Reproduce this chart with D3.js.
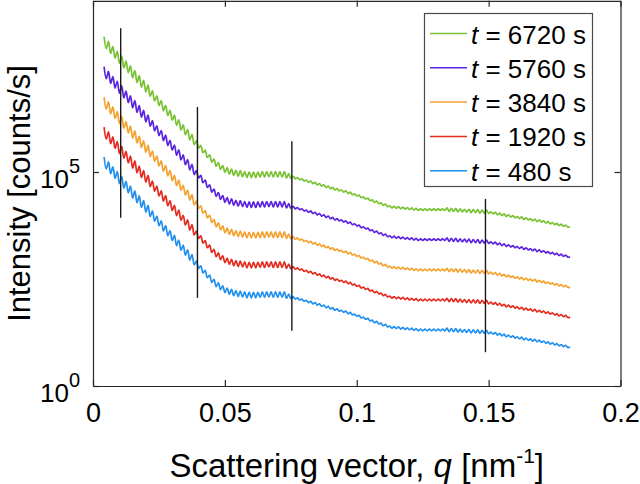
<!DOCTYPE html>
<html><head><meta charset="utf-8">
<script src="https://cdn.jsdelivr.net/npm/d3@7"></script>
<style>
body{margin:0;background:#fff;}
svg{display:block;font-family:"Liberation Sans",Arial,Helvetica,sans-serif;}
</style>
</head><body>
<svg id="chart" width="640" height="484"></svg>
<script>
// ---------------- DATA ----------------
// Legend labels (time, s) and colours, top to bottom
const seriesTimes = ["6720", "5760", "3840", "1920", "480"];
const seriesColors = ["#78C232", "#5A23E0", "#F4A22E", "#E42B1F", "#2090EE"];

// Scattering vector grid: q = qStart + i * qStep  (nm^-1)
const qStart = 0.0042;
const qStep = 1 / 1200;

// log10 of intensity (counts/s), one value per grid point
const logI_480 = [
5.35,5.07,5.24,4.96,5.12,4.85,5.01,4.73,4.90,4.62,
4.78,4.51,4.67,4.39,4.56,4.28,4.44,4.17,4.33,4.06,
4.22,3.96,4.09,3.85,3.97,3.74,3.86,3.62,3.75,3.51,
3.63,3.40,3.52,3.28,3.41,3.17,3.29,3.06,3.18,2.94,
3.07,2.83,2.92,2.75,2.81,2.64,2.70,2.53,2.59,2.42,
2.49,2.32,2.41,2.25,2.34,2.18,2.29,2.14,2.26,2.11,
2.23,2.09,2.22,2.08,2.20,2.06,2.19,2.06,2.19,2.06,
2.19,2.07,2.20,2.07,2.20,2.08,2.20,2.07,2.20,2.07,
2.20,2.07,2.20,2.05,2.15,2.04,2.09,2.03,2.06,2.01,
2.03,1.98,2.00,1.95,1.98,1.92,1.95,1.89,1.92,1.86,
1.89,1.83,1.86,1.80,1.83,1.77,1.80,1.75,1.77,1.72,
1.75,1.69,1.72,1.66,1.68,1.63,1.65,1.59,1.61,1.56,
1.58,1.52,1.54,1.48,1.51,1.45,1.47,1.41,1.44,1.38,
1.40,1.35,1.39,1.34,1.38,1.33,1.37,1.32,1.36,1.31,
1.35,1.30,1.34,1.29,1.33,1.29,1.33,1.29,1.33,1.29,
1.33,1.29,1.33,1.29,1.33,1.29,1.35,1.27,1.34,1.27,
1.34,1.26,1.33,1.26,1.32,1.25,1.32,1.24,1.31,1.24,
1.31,1.23,1.30,1.23,1.30,1.22,1.26,1.21,1.25,1.19,
1.23,1.17,1.21,1.15,1.19,1.14,1.17,1.12,1.15,1.10,
1.14,1.08,1.12,1.07,1.10,1.05,1.09,1.03,1.07,1.02,
1.05,1.00,1.03,0.98,1.01,0.96,0.99,0.94,0.97,0.92,
0.95,0.90,0.91];

const logI_1920 = [
6.05,5.77,5.94,5.66,5.82,5.55,5.71,5.43,5.60,5.32,
5.48,5.21,5.37,5.09,5.26,4.98,5.14,4.87,5.03,4.76,
4.92,4.66,4.79,4.55,4.67,4.44,4.56,4.32,4.45,4.21,
4.33,4.10,4.22,3.98,4.11,3.87,3.99,3.76,3.88,3.64,
3.77,3.53,3.62,3.45,3.51,3.34,3.40,3.23,3.29,3.12,
3.19,3.02,3.11,2.95,3.04,2.88,2.99,2.84,2.96,2.81,
2.93,2.79,2.92,2.78,2.90,2.76,2.89,2.76,2.89,2.76,
2.89,2.77,2.90,2.77,2.90,2.78,2.90,2.77,2.90,2.77,
2.90,2.77,2.90,2.75,2.85,2.74,2.79,2.73,2.76,2.71,
2.73,2.68,2.70,2.65,2.68,2.62,2.65,2.59,2.62,2.56,
2.59,2.53,2.56,2.50,2.53,2.47,2.50,2.45,2.47,2.42,
2.45,2.39,2.42,2.36,2.38,2.33,2.35,2.29,2.31,2.26,
2.28,2.22,2.24,2.18,2.21,2.15,2.17,2.11,2.14,2.08,
2.10,2.05,2.09,2.04,2.08,2.03,2.07,2.02,2.06,2.01,
2.05,2.00,2.04,1.99,2.03,1.99,2.03,1.99,2.03,1.99,
2.03,1.99,2.03,1.99,2.03,1.99,2.05,1.97,2.04,1.97,
2.04,1.96,2.03,1.96,2.02,1.95,2.02,1.94,2.01,1.94,
2.01,1.93,2.00,1.93,2.00,1.92,1.96,1.91,1.95,1.89,
1.93,1.87,1.91,1.85,1.89,1.84,1.87,1.82,1.85,1.80,
1.84,1.78,1.82,1.77,1.80,1.75,1.79,1.73,1.77,1.72,
1.75,1.70,1.73,1.68,1.71,1.66,1.69,1.64,1.67,1.62,
1.65,1.60,1.61];

const logI_3840 = [
6.75,6.47,6.64,6.36,6.52,6.25,6.41,6.13,6.30,6.02,
6.18,5.91,6.07,5.79,5.96,5.68,5.84,5.57,5.73,5.46,
5.62,5.36,5.49,5.25,5.37,5.14,5.26,5.02,5.15,4.91,
5.03,4.80,4.92,4.68,4.81,4.57,4.69,4.46,4.58,4.34,
4.47,4.23,4.32,4.15,4.21,4.04,4.10,3.93,3.99,3.82,
3.89,3.72,3.81,3.65,3.74,3.58,3.69,3.54,3.66,3.51,
3.63,3.49,3.62,3.48,3.60,3.46,3.59,3.46,3.59,3.46,
3.59,3.47,3.60,3.47,3.60,3.48,3.60,3.47,3.60,3.47,
3.60,3.47,3.60,3.45,3.55,3.44,3.49,3.43,3.46,3.41,
3.43,3.38,3.40,3.35,3.38,3.32,3.35,3.29,3.32,3.26,
3.29,3.23,3.26,3.20,3.23,3.17,3.20,3.15,3.17,3.12,
3.15,3.09,3.12,3.06,3.08,3.03,3.05,2.99,3.01,2.96,
2.98,2.92,2.94,2.88,2.91,2.85,2.87,2.81,2.84,2.78,
2.80,2.75,2.79,2.74,2.78,2.73,2.77,2.72,2.76,2.71,
2.75,2.70,2.74,2.69,2.73,2.69,2.73,2.69,2.73,2.69,
2.73,2.69,2.73,2.69,2.73,2.69,2.75,2.67,2.74,2.67,
2.74,2.66,2.73,2.66,2.72,2.65,2.72,2.64,2.71,2.64,
2.71,2.63,2.70,2.63,2.70,2.62,2.66,2.61,2.65,2.59,
2.63,2.57,2.61,2.55,2.59,2.54,2.57,2.52,2.55,2.50,
2.54,2.48,2.52,2.47,2.50,2.45,2.49,2.43,2.47,2.42,
2.45,2.40,2.43,2.38,2.41,2.36,2.39,2.34,2.37,2.32,
2.35,2.30,2.31];

const logI_5760 = [
7.46,7.18,7.35,7.07,7.23,6.96,7.12,6.84,7.01,6.73,
6.89,6.62,6.78,6.50,6.67,6.39,6.55,6.28,6.44,6.17,
6.33,6.07,6.20,5.96,6.08,5.85,5.97,5.73,5.86,5.62,
5.74,5.51,5.63,5.39,5.52,5.28,5.40,5.17,5.29,5.05,
5.18,4.94,5.03,4.86,4.92,4.75,4.81,4.64,4.70,4.53,
4.60,4.43,4.52,4.36,4.45,4.29,4.40,4.25,4.37,4.22,
4.34,4.20,4.33,4.19,4.31,4.17,4.30,4.17,4.30,4.17,
4.30,4.18,4.31,4.18,4.31,4.19,4.31,4.18,4.31,4.18,
4.31,4.18,4.31,4.16,4.26,4.15,4.20,4.14,4.17,4.12,
4.14,4.09,4.11,4.06,4.09,4.03,4.06,4.00,4.03,3.97,
4.00,3.94,3.97,3.91,3.94,3.88,3.91,3.86,3.88,3.83,
3.86,3.80,3.83,3.77,3.79,3.74,3.76,3.70,3.72,3.67,
3.69,3.63,3.65,3.59,3.62,3.56,3.58,3.52,3.55,3.49,
3.51,3.46,3.50,3.45,3.49,3.44,3.48,3.43,3.47,3.42,
3.46,3.41,3.45,3.40,3.44,3.40,3.44,3.40,3.44,3.40,
3.44,3.40,3.44,3.40,3.44,3.40,3.46,3.38,3.45,3.38,
3.45,3.37,3.44,3.37,3.43,3.36,3.43,3.35,3.42,3.35,
3.42,3.34,3.41,3.34,3.41,3.33,3.37,3.32,3.36,3.30,
3.34,3.28,3.32,3.26,3.30,3.25,3.28,3.23,3.26,3.21,
3.25,3.19,3.23,3.18,3.21,3.16,3.20,3.14,3.18,3.13,
3.16,3.11,3.14,3.09,3.12,3.07,3.10,3.05,3.08,3.03,
3.06,3.01,3.02];

const logI_6720 = [
8.16,7.88,8.05,7.77,7.93,7.66,7.82,7.54,7.71,7.43,
7.59,7.32,7.48,7.20,7.37,7.09,7.25,6.98,7.14,6.87,
7.03,6.77,6.90,6.66,6.78,6.55,6.67,6.43,6.56,6.32,
6.44,6.21,6.33,6.09,6.22,5.98,6.10,5.87,5.99,5.75,
5.88,5.64,5.73,5.56,5.62,5.45,5.51,5.34,5.40,5.23,
5.30,5.13,5.22,5.06,5.15,4.99,5.10,4.95,5.07,4.92,
5.04,4.90,5.03,4.89,5.01,4.87,5.00,4.87,5.00,4.87,
5.00,4.88,5.01,4.88,5.01,4.89,5.01,4.88,5.01,4.88,
5.01,4.88,5.01,4.86,4.96,4.85,4.90,4.84,4.87,4.82,
4.84,4.79,4.81,4.76,4.79,4.73,4.76,4.70,4.73,4.67,
4.70,4.64,4.67,4.61,4.64,4.58,4.61,4.56,4.58,4.53,
4.56,4.50,4.53,4.47,4.49,4.44,4.46,4.40,4.42,4.37,
4.39,4.33,4.35,4.29,4.32,4.26,4.28,4.22,4.25,4.19,
4.21,4.16,4.20,4.15,4.19,4.14,4.18,4.13,4.17,4.12,
4.16,4.11,4.15,4.10,4.14,4.10,4.14,4.10,4.14,4.10,
4.14,4.10,4.14,4.10,4.14,4.10,4.16,4.08,4.15,4.08,
4.15,4.07,4.14,4.07,4.13,4.06,4.13,4.05,4.12,4.05,
4.12,4.04,4.11,4.04,4.11,4.03,4.07,4.02,4.06,4.00,
4.04,3.98,4.02,3.96,4.00,3.95,3.98,3.93,3.96,3.91,
3.95,3.89,3.93,3.88,3.91,3.86,3.90,3.84,3.88,3.83,
3.86,3.81,3.84,3.79,3.82,3.77,3.80,3.75,3.78,3.73,
3.76,3.71,3.72];

// Vertical black marker lines: q position, log10 bottom and top
const markerQ = [0.0105, 0.0396, 0.0754, 0.1488];
const markerLogBottom = [3.93, 2.06, 1.29, 0.79];
const markerLogTop = [8.36, 6.52, 5.72, 4.37];

// Axis ticks
const xTickValues = [0, 0.05, 0.1, 0.15, 0.2];
const xTickLabels = ["0", "0.05", "0.1", "0.15", "0.2"];
const yTickValues = [1, 1e5];
const yTickExponents = ["0", "5"];

// ---------------- CHART ----------------
const seriesValues = [logI_6720, logI_5760, logI_3840, logI_1920, logI_480];

const plot = {left: 93, right: 620.5, top: 0.8, bottom: 386};
const svg = d3.select("#chart");

const x = d3.scaleLinear().domain([0, 0.2]).range([plot.left, plot.right]);
const y = d3.scaleLog().domain([1, 1e9]).range([plot.bottom, plot.top]);

const axisColor = "#262626";
const tickFont = 27;

// Series lines
const line = d3.line()
  .x(d => x(d.q))
  .y(d => y(d.I))
  .curve(d3.curveCatmullRom.alpha(0.5));

const seriesG = svg.append("g");
seriesValues.forEach((vals, k) => {
  const pts = vals.map((v, i) => ({q: qStart + i * qStep, I: Math.pow(10, v)}));
  seriesG.append("path")
    .datum(pts)
    .attr("fill", "none")
    .attr("stroke", seriesColors[k])
    .attr("stroke-width", 1.7)
    .attr("stroke-linejoin", "round")
    .attr("d", line);
});

// Marker lines
svg.append("g").selectAll("line")
  .data(markerQ.map((q, i) => ({q, lo: Math.pow(10, markerLogBottom[i]), hi: Math.pow(10, markerLogTop[i])})))
  .join("line")
  .attr("x1", d => x(d.q)).attr("x2", d => x(d.q))
  .attr("y1", d => y(d.lo)).attr("y2", d => y(d.hi))
  .attr("stroke", "#1a1a1a")
  .attr("stroke-width", 1.4);

// Axes
function styleAxis(g) {
  g.select(".domain").attr("stroke", axisColor).attr("stroke-width", 1.2);
  g.selectAll(".tick line").attr("stroke", axisColor).attr("stroke-width", 1.2);
}

const xAxis = svg.append("g")
  .attr("transform", `translate(0,${plot.bottom})`)
  .call(d3.axisBottom(x).tickValues(xTickValues).tickSizeInner(-6).tickSizeOuter(0)
    .tickPadding(17).tickFormat((d, i) => xTickLabels[i]));
styleAxis(xAxis);
xAxis.selectAll(".tick text").attr("font-size", tickFont).attr("fill", "#000")
  .attr("font-family", "Liberation Sans, Arial, sans-serif");

const xAxisTop = svg.append("g")
  .attr("transform", `translate(0,${plot.top})`)
  .call(d3.axisTop(x).tickValues(xTickValues).tickSizeInner(-6).tickSizeOuter(0).tickFormat(""));
styleAxis(xAxisTop);

const yAxis = svg.append("g")
  .attr("transform", `translate(${plot.left},0)`)
  .call(d3.axisLeft(y).tickValues(yTickValues).tickSizeInner(-6).tickSizeOuter(0).tickFormat(""));
styleAxis(yAxis);
yAxis.selectAll(".tick").each(function(d, i) {
  const t = d3.select(this).append("text")
    .attr("x", -13).attr("y", 15)
    .attr("text-anchor", "end")
    .attr("fill", "#000")
    .attr("font-size", 26);
  t.append("tspan").text("10");
  t.append("tspan").attr("dy", -15).attr("font-size", 20).text(yTickExponents[i]);
});

const yAxisRight = svg.append("g")
  .attr("transform", `translate(${plot.right},0)`)
  .call(d3.axisRight(y).tickValues(yTickValues).tickSizeInner(-6).tickSizeOuter(0).tickFormat(""));
styleAxis(yAxisRight);

// Axis titles
const xTitle = svg.append("text")
  .attr("x", (plot.left + plot.right) / 2)
  .attr("y", 477)
  .attr("text-anchor", "middle")
  .attr("font-size", 33)
  .attr("fill", "#000");
xTitle.append("tspan").text("Scattering vector, ");
xTitle.append("tspan").attr("font-style", "italic").text("q");
xTitle.append("tspan").text(" [nm");
xTitle.append("tspan").attr("dy", -14).attr("font-size", 21).text("-1");
xTitle.append("tspan").attr("dy", 14).text("]");

svg.append("text")
  .attr("transform", `translate(30,${(57 + 330) / 2}) rotate(-90)`)
  .attr("text-anchor", "middle")
  .attr("font-size", 31)
  .attr("fill", "#000")
  .text("Intensity [counts/s]");

// Legend
const legend = svg.append("g");
legend.append("rect")
  .attr("x", 424.5).attr("y", 13.5).attr("width", 168).attr("height", 173)
  .attr("fill", "#fff").attr("stroke", "#4a4a4a").attr("stroke-width", 1.2);
seriesTimes.forEach((t, k) => {
  const ly = 33.5 + k * 34.3;
  legend.append("line")
    .attr("x1", 430).attr("x2", 467).attr("y1", ly).attr("y2", ly)
    .attr("stroke", seriesColors[k]).attr("stroke-width", 1.5);
  const tx = legend.append("text")
    .attr("x", 471).attr("y", ly + 10)
    .attr("font-size", 26).attr("fill", "#000");
  tx.append("tspan").attr("font-style", "italic").text("t");
  tx.append("tspan").text(` = ${t} s`);
});
</script>
</body></html>
